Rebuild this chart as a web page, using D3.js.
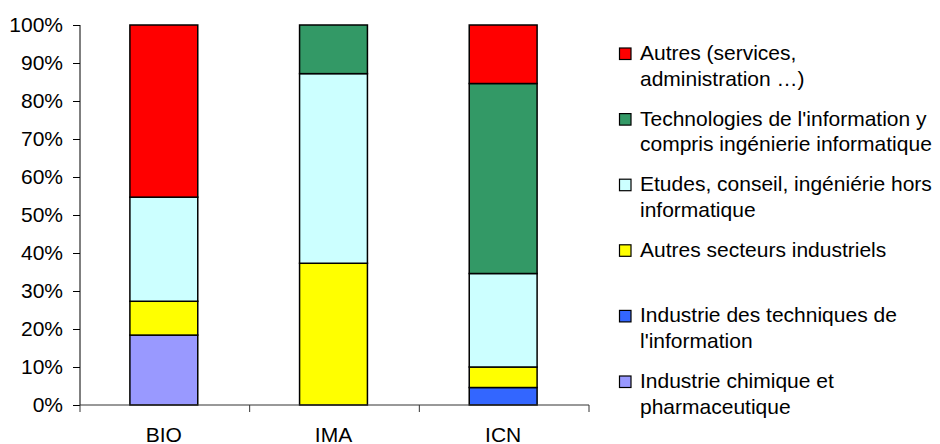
<!DOCTYPE html>
<html><head><meta charset="utf-8">
<script src="https://cdn.jsdelivr.net/npm/d3@7/dist/d3.min.js"></script>
<style>body{margin:0;background:#fff}svg{display:block}text{font-family:"Liberation Sans",Arial,sans-serif;fill:#000}</style>
</head><body><svg id="c" width="940" height="444"></svg>
<script>
const categories = ["BIO", "IMA", "ICN"];
const seriesNames = [
  "Industrie chimique et pharmaceutique",
  "Industrie des techniques de l'information",
  "Autres secteurs industriels",
  "Etudes, conseil, ingéniérie hors informatique",
  "Technologies de l'information y compris ingénierie informatique",
  "Autres (services, administration …)"
];
const legendLines = [
  ["Industrie chimique et", "pharmaceutique"],
  ["Industrie des techniques de", "l'information"],
  ["Autres secteurs industriels"],
  ["Etudes, conseil, ingéniérie hors", "informatique"],
  ["Technologies de l'information y", "compris ingénierie informatique"],
  ["Autres (services,", "administration …)"]
];
const seriesColors = ["#9999FF", "#3366FF", "#FFFF00", "#CCFFFF", "#339966", "#FF0000"];
const chimique     = [18.4, 0, 0];
const techniques   = [0, 0, 4.6];
const autresInd    = [8.9, 37.3, 5.4];
const etudes       = [27.4, 49.9, 24.6];
const technologies = [0, 12.8, 50.0];
const autres       = [45.3, 0, 15.4];
const yTicks = [0,10,20,30,40,50,60,70,80,90,100];

const seriesValues = [chimique, techniques, autresInd, etudes, technologies, autres];
const rows = categories.map((c,i)=>{const r={cat:c}; seriesNames.forEach((s,j)=>r[s]=seriesValues[j][i]); return r;});
const stack = d3.stack().keys(seriesNames)(rows);

const svg = d3.select("#c");
const L=80, R=589, T=25, B=405;
const x = d3.scaleBand().domain(categories).range([L,R]).padding(0);
const y = d3.scaleLinear().domain([0,100]).range([B,T]);
const bw = x.bandwidth()*0.4;

const g = svg.append("g");
stack.forEach((layer,j)=>{
  g.selectAll(null).data(layer.filter(d=>d[1]-d[0]>0)).enter().append("rect")
    .attr("x", d=>x(d.data.cat)+(x.bandwidth()-bw)/2-1)
    .attr("y", d=>y(d[1]))
    .attr("width", bw)
    .attr("height", d=>y(d[0])-y(d[1]))
    .attr("fill", seriesColors[j])
    .attr("stroke", "#000").attr("stroke-width", 1.5);
});

// y axis
const ya = svg.append("g").attr("transform",`translate(${L},0)`)
  .call(d3.axisLeft(y).tickValues(yTicks).tickSize(7).tickPadding(10).tickFormat(d=>d+"%"));
ya.select(".domain").attr("stroke","#000").attr("d",`M0,${T}V${B}`);
ya.selectAll(".tick line").attr("stroke","#000");
ya.selectAll("text").style("font-size","21px").style("font-family","Liberation Sans, Arial, sans-serif").attr("fill","#000");

// x axis
const xa = svg.append("g").attr("transform",`translate(0,${B})`);
xa.append("path").attr("d",`M${L},0H${R}`).attr("stroke","#333").attr("stroke-width",1);
const bounds = categories.map(c=>x(c)).concat([x(categories[categories.length-1])+x.step()]);
xa.selectAll("line.tk").data(bounds).enter().append("line").attr("class","tk")
  .attr("x1",d=>d).attr("x2",d=>d).attr("y1",0).attr("y2",7).attr("stroke","#333");
xa.selectAll("text").data(categories).enter().append("text")
  .attr("x",d=>x(d)+x.bandwidth()/2-1).attr("y",37)
  .attr("text-anchor","middle").style("font-size","21px").text(d=>d);

// legend (top to bottom: reverse order)
const leg = svg.append("g");
const order = d3.range(seriesNames.length).reverse();
order.forEach((j,k)=>{
  const by = 60 + k*65.6;
  leg.append("rect").attr("x",619.5).attr("y",by-12).attr("width",11.5).attr("height",11.5)
    .attr("fill",seriesColors[j]).attr("stroke","#000").attr("stroke-width",1.2);
  legendLines[j].forEach((t,li)=>{
    leg.append("text").attr("x",640).attr("y",by+li*25.5).style("font-size","21px").text(t);
  });
});
</script></body></html>
